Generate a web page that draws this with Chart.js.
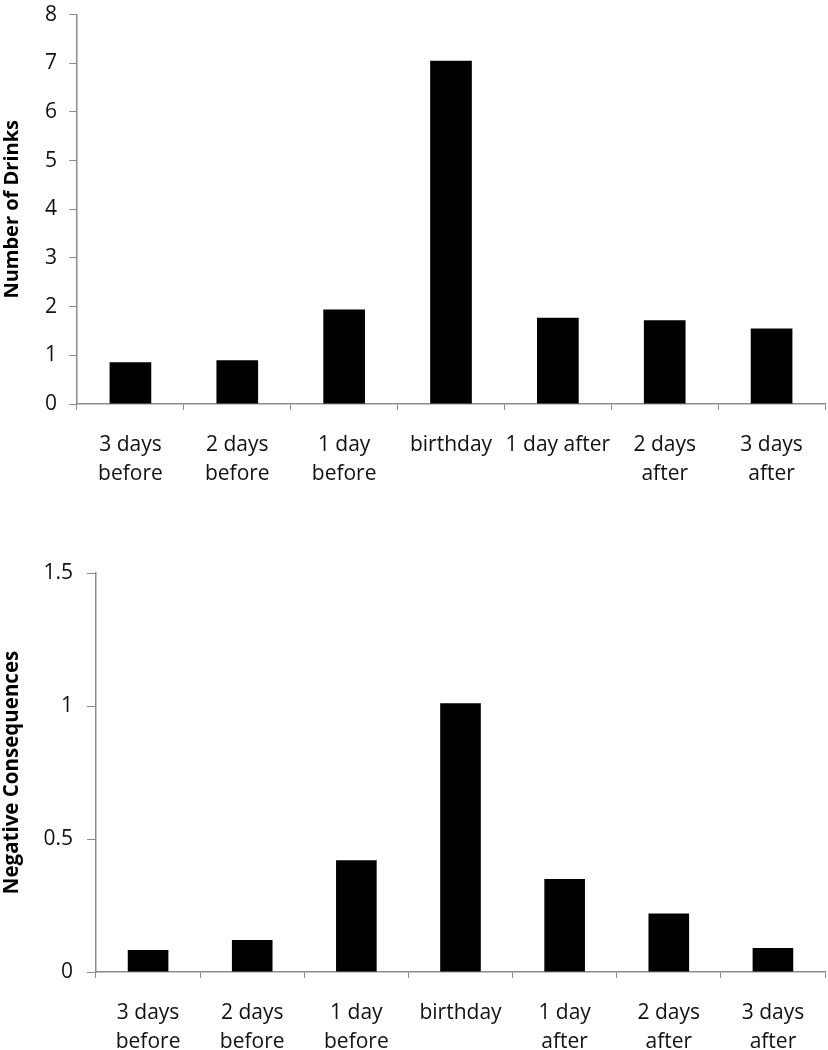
<!DOCTYPE html>
<html>
<head>
<meta charset="utf-8">
<script src="https://cdn.jsdelivr.net/npm/chart.js@4"></script>
<style>
  html, body { margin: 0; padding: 0; background: #fff; }
  body { width: 828px; height: 1050px; position: relative; overflow: hidden; }
  .box { position: absolute; left: 0; width: 828px; }
</style>
</head>
<body>
<div class="box" style="top:-10px;height:510px;"><canvas id="drinksChart"></canvas></div>
<div class="box" style="top:540px;height:510px;"><canvas id="consChart"></canvas></div>
<script>
// data
var drinkLabels = [["3 days", "before"], ["2 days", "before"], ["1 day", "before"], "birthday",
    "1 day after", ["2 days", "after"], ["3 days", "after"]];
var consLabels = [["3 days", "before"], ["2 days", "before"], ["1 day", "before"], "birthday",
    ["1 day", "after"], ["2 days", "after"], ["3 days", "after"]];
var drinks = [0.86, 0.90, 1.94, 7.05, 1.77, 1.72, 1.55];
var consequences = [0.083, 0.12, 0.42, 1.01, 0.35, 0.22, 0.09];

var FONT = "'Open Sans', 'Liberation Sans', sans-serif";
var AXIS = '#8c8c8c';

function makeChart(id, labels, values, yTitle, yMax, yStep, opts) {
    var ctx = document.getElementById(id).getContext('2d');
    return new Chart(ctx, {
        type: 'bar',
        data: {
            labels: labels,
            datasets: [{
                data: values,
                backgroundColor: '#000',
                borderWidth: 0,
                barPercentage: 0.39,
                categoryPercentage: 1.0
            }]
        },
        options: {
            responsive: true,
            maintainAspectRatio: false,
            animation: false,
            layout: { padding: { top: opts.padTop, right: 3, left: 0, bottom: 0 } },
            plugins: { legend: { display: false }, tooltip: { enabled: false } },
            scales: {
                x: {
                    offset: true,
                    grid: { offset: true, drawOnChartArea: false, color: AXIS, tickLength: 6, lineWidth: 1 },
                    border: { color: AXIS, width: 1.5 },
                    ticks: {
                        color: '#111', padding: opts.xPad, maxRotation: 0, autoSkip: false,
                        font: { family: FONT, size: 21, lineHeight: 1.38 }
                    },
                    afterFit: function (s) { s.height = opts.xHeight; }
                },
                y: {
                    min: 0, max: yMax,
                    grid: { drawOnChartArea: false, color: AXIS, tickLength: opts.yTick },
                    border: { color: AXIS, width: 1.5 },
                    ticks: {
                        stepSize: yStep, color: '#111', padding: opts.yPad,
                        font: { family: FONT, size: 21 },
                        callback: function (v) { return String(v); }
                    },
                    title: {
                        display: true, text: yTitle, color: '#000',
                        font: { family: FONT, size: opts.titleSize, weight: 'bold' },
                        padding: { top: 0, bottom: 0 }
                    },
                    afterFit: function (s) { s.width = opts.yWidth; }
                }
            }
        }
    });
}

makeChart('drinksChart', drinkLabels, drinks, 'Number of Drinks', 8, 1,
    { padTop: 16, xHeight: 96, xPad: 21, yWidth: 77, yTick: 8, yPad: 12, titleSize: 20 });
makeChart('consChart', consLabels, consequences, 'Negative Consequences', 1.5, 0.5,
    { padTop: 33, xHeight: 78, xPad: 21, yWidth: 96, yTick: 9, yPad: 14, titleSize: 20.5 });
</script>
</body>
</html>
